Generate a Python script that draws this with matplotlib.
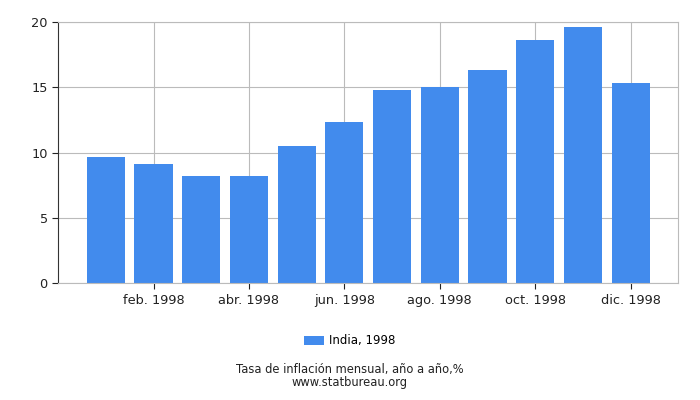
import numpy as np
import matplotlib
matplotlib.use('Agg')
import matplotlib.pyplot as plt

months = ['ene. 1998', 'feb. 1998', 'mar. 1998', 'abr. 1998', 'may. 1998', 'jun. 1998',
          'jul. 1998', 'ago. 1998', 'sept. 1998', 'oct. 1998', 'nov. 1998', 'dic. 1998']
inflation = [9.68, 9.14, 8.22, 8.22, 10.52, 12.36, 14.81, 15.04, 16.35, 18.65, 19.64, 15.35]
series_label = 'India, 1998'
title = 'Tasa de inflación mensual, año a año,%'
source = 'www.statbureau.org'

plt.rcParams['font.family'] = ['DejaVu Sans']
fig = plt.figure(figsize=(7, 4), dpi=100)
ax = fig.add_axes([0.083, 0.2925, 0.886, 0.6525])

x = np.arange(1, len(months) + 1)
ax.bar(x, inflation, width=0.8, color='#428bed', label=series_label, zorder=2)

ax.set_xlim(0, 13)
ax.set_ylim(0, 20)
ax.set_yticks([0, 5, 10, 15, 20])
ax.set_xticks(x[1::2])
ax.set_xticklabels(months[1::2])
ax.grid(True, color='#bbbbbb', linewidth=0.8, zorder=0)
for s in ['top', 'right', 'bottom']:
    ax.spines[s].set_color('#bbbbbb')
ax.spines['left'].set_color('#333333')
ax.tick_params(axis='both', labelsize=9.3, colors='#222222', length=4)
ax.tick_params(axis='x', pad=4)

fig.legend(loc='center', bbox_to_anchor=(0.5, 0.148), frameon=False, fontsize=8.5,
           handlelength=1.7, handleheight=0.8, handletextpad=0.4)
# title and source as one two-line text block
fig.text(0.5, 0.059, title + '\n' + source, ha='center', va='center', fontsize=8.3,
         color='#222222', linespacing=1.0)

fig.savefig('out.png', dpi=100)
